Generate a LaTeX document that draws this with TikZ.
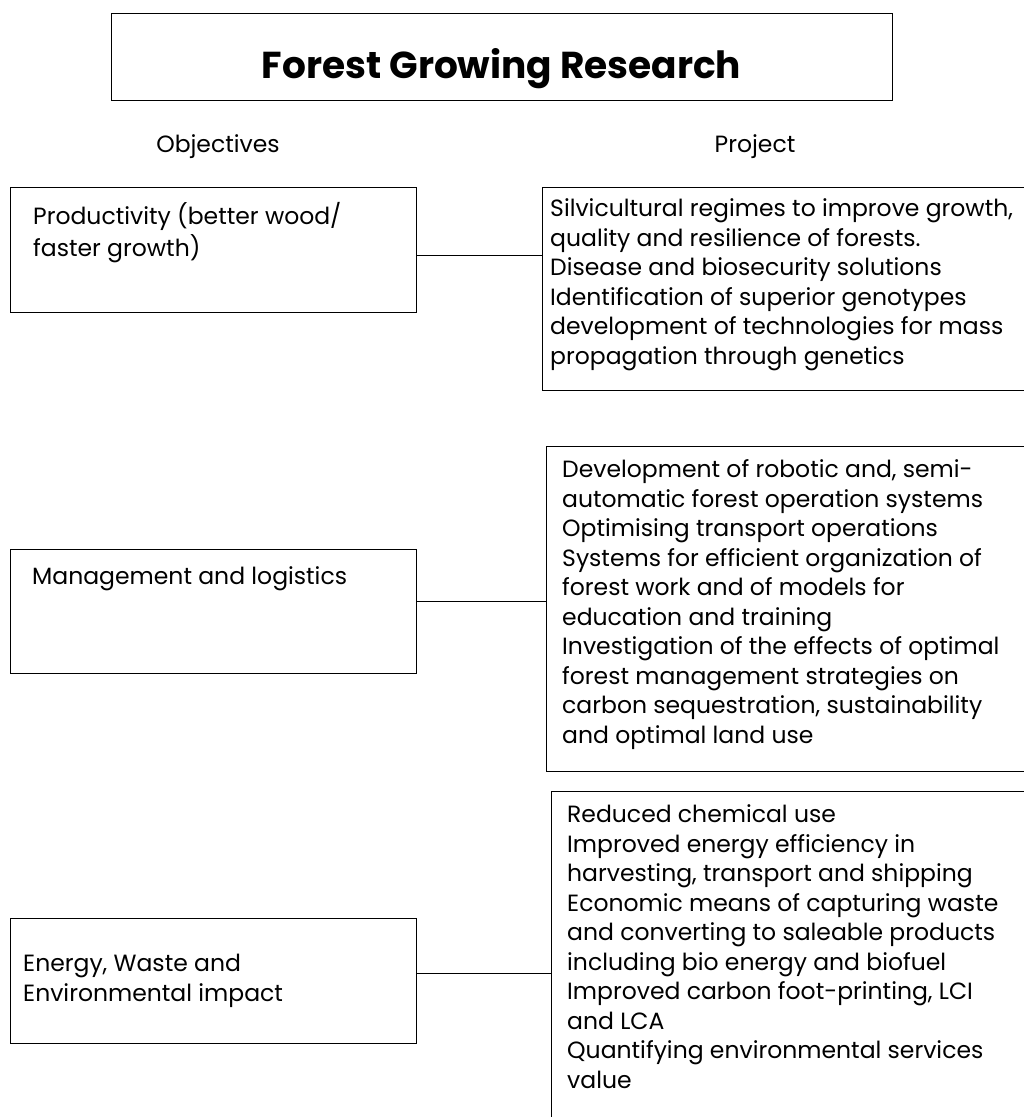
\documentclass[tikz,border=0pt]{standalone}
\usepackage{fontspec}
\setmainfont{Poppins}
\usetikzlibrary{positioning}
\tikzstyle{box}=[
	rectangle,
	draw,
	line width=1.3pt,
	anchor=north west,
	inner sep=0pt
]
\tikzstyle{boxtext}=[
	anchor=north west,
	inner sep=0pt,
	align=left,
	font=\fontsize{23.5}{29.5}\selectfont
]
\tikzstyle{heading}=[
	anchor=base,
	inner sep=0pt,
	font=\fontsize{23.5}{28}\selectfont
]
\tikzstyle{link}=[
	line width=1pt
]

\begin{document}
\begin{tikzpicture}[x=1pt,y=-1pt]
\useasboundingbox (0,0) rectangle (1024,1117);
\node [box, minimum width=781pt, minimum height=87pt] (Title) at (111,13) {};
\node [anchor=base, inner sep=0pt, font=\bfseries\fontsize{37.5}{42}\selectfont]
	(TitleText) at (501.5,78) {Forest Growing Research};
\node [heading] (Objectives) at (218,152) {Objectives};
\node [heading] (Project) at (755,152) {Project};
% objectives
\node [box, minimum width=406pt, minimum height=125pt] (Productivity) at (10,187) {};
\node [box, minimum width=406pt, minimum height=124pt] (Management) at (10,549) {};
\node [box, minimum width=406pt, minimum height=125pt] (Energy) at (10,918) {};
\node [boxtext] (ProductivityText) at (33,202) {\strut Productivity (better wood/\\faster growth)};
\node [boxtext] (ManagementText) at (32,564) {\strut Management and logistics};
\node [boxtext] (EnergyText) at (23,951) {\strut Energy, Waste and\\Environmental impact};
% projects
\node [box, minimum width=498pt, minimum height=203pt] (ProductivityProjects) at (542,187) {};
\node [box, minimum width=494pt, minimum height=325pt] (ManagementProjects) at (546,446) {};
\node [box, minimum width=489pt, minimum height=339pt] (EnergyProjects) at (551,791) {};
\node [boxtext] (ProductivityProjectsText) at (550,196) {\strut Silvicultural regimes to improve growth,\\
	quality and resilience of forests.\\
	Disease and biosecurity solutions\\
	Identification of superior genotypes\\
	development of technologies for mass\\
	propagation through genetics};
\node [boxtext] (ManagementProjectsText) at (562,457) {\strut Development of robotic and, semi-\\
	automatic forest operation systems\\
	Optimising transport operations\\
	Systems for efficient organization of\\
	forest work and of models for\\
	education and training\\
	Investigation of the effects of optimal\\
	forest management strategies on\\
	carbon sequestration, sustainability\\
	and optimal land use};
\node [boxtext] (EnergyProjectsText) at (567,802) {\strut Reduced chemical use\\
	Improved energy efficiency in\\
	harvesting, transport and shipping\\
	Economic means of capturing waste\\
	and converting to saleable products\\
	including bio energy and biofuel\\
	Improved carbon foot-printing, LCI\\
	and LCA\\
	Quantifying environmental services\\
	value};
% links
\coordinate (LinkA) at (0,255);
\coordinate (LinkB) at (0,601);
\coordinate (LinkC) at (0,973);
\draw [link] (Productivity.east |- LinkA) -- (ProductivityProjects.west |- LinkA);
\draw [link] (Management.east |- LinkB) -- (ManagementProjects.west |- LinkB);
\draw [link] (Energy.east |- LinkC) -- (EnergyProjects.west |- LinkC);
\end{tikzpicture}
\end{document}
